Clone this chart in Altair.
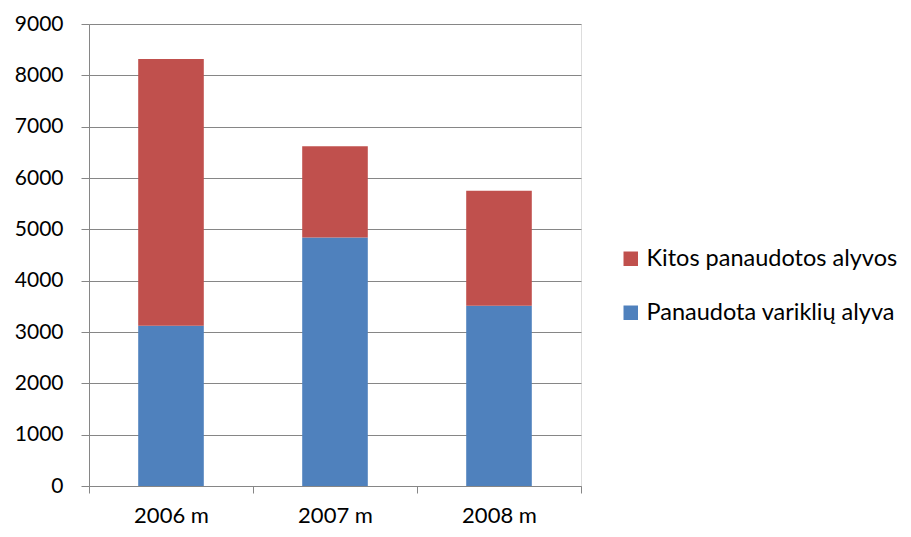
import altair as alt
import pandas as pd

years = ["2006 m", "2007 m", "2008 m"]
series = ["Kitos panaudotos alyvos", "Panaudota variklių alyva"]
engine_oil = [3120, 4840, 3510]
other_oil = [5200, 1780, 2240]
colors = ["#C0504D", "#4F81BD"]

rows = []
for i, y in enumerate(years):
    rows.append({"year": y, "series": series[1], "value": engine_oil[i], "ord": 0})
    rows.append({"year": y, "series": series[0], "value": other_oil[i], "ord": 1})
df = pd.DataFrame(rows)

FONT = "Lato"
GRID = "#868686"

chart = alt.Chart(df).mark_bar(width=alt.RelativeBandSize(0.4)).encode(
    x=alt.X("year:N", title=None, sort=years,
            scale=alt.Scale(paddingInner=0, paddingOuter=0),
            axis=alt.Axis(labelAngle=0, labelFontSize=22, labelFont=FONT, labelColor="#000000",
                          tickBand="extent", tickSize=7, tickColor=GRID, domainColor=GRID,
                          labelPadding=12, grid=False)),
    y=alt.Y("value:Q", title=None, stack="zero",
            scale=alt.Scale(domain=[0, 9000], nice=False),
            axis=alt.Axis(values=list(range(0, 9001, 1000)), format="d", labelFontSize=21,
                          labelFont=FONT, labelColor="#000000", tickSize=8, tickColor=GRID,
                          domainColor=GRID, gridColor=GRID, gridOpacity=1, labelPadding=18)),
    color=alt.Color("series:N", title=None,
                    scale=alt.Scale(domain=series, range=colors),
                    legend=alt.Legend(orient="none", legendX=530, legendY=223,
                                      symbolType="square", symbolSize=210, symbolStrokeWidth=0,
                                      labelFontSize=23.5, labelFont=FONT, labelColor="#000000",
                                      labelOffset=4, rowPadding=29, labelLimit=400)),
    order=alt.Order("ord:Q"),
).properties(
    width=492, height=462,
    autosize=alt.AutoSizeParams(type="none"),
    padding={"left": 81, "top": 16, "right": 322, "bottom": 43},
).configure_view(stroke=None).configure(background="white")

chart.save("out.html", embed_options={"renderer": "svg", "actions": False})
